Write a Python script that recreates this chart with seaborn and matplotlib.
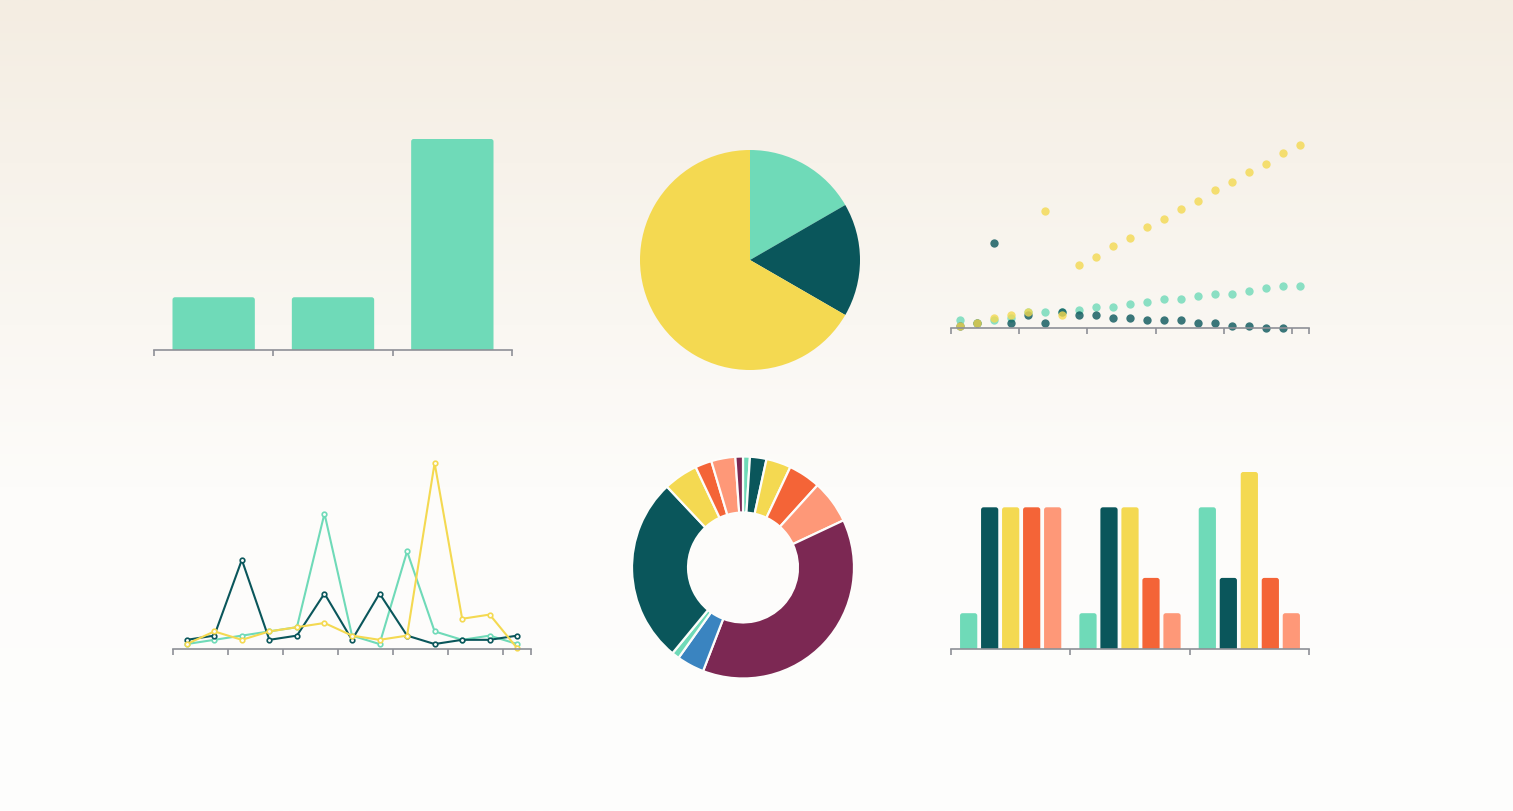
import numpy as np
import pandas as pd
import matplotlib
matplotlib.use('Agg')
import matplotlib.pyplot as plt
from matplotlib.patches import FancyBboxPatch
import seaborn as sns

sns.set_theme(style='white')

# colours
TEAL = '#6fdab8'
DARK = '#0a565b'
YELLOW = '#f4d951'
ORANGE = '#f46437'
SALMON = '#fe9878'
MAROON = '#7c2853'
BLUE = '#3a84c0'

# data - simple bar (top left) and pie (top middle)
bar_cats = ['A', 'B', 'C']
bar_vals = [1, 1, 4]
pie_vals = [1, 1, 4]
pie_colors = [TEAL, DARK, YELLOW]

# data - scatter (top right), 21 steps
sc_x = list(range(21))
sc_teal = [3, 2, 3, 4, 6, 6, 6, 7, 8, 8, 9, 10, 11, 11, 12, 13, 13, 14, 15, 16, 16]
sc_dark = [1, 2, 32, 2, 5, 2, 6, 5, 5, 4, 4, 3, 3, 3, 2, 2, 1, 1, 0, 0, np.nan]
sc_yellow = [1, 2, 4, 5, 6, 44, 5, 24, 27, 31, 34, 38, 41, 45, 48, 52, 55, 59, 62, 66, 69]

# data - line chart (bottom left), 13 steps
ln_x = list(range(13))
ln_teal = [1, 2, 3, 4, 5, 32, 3, 1, 23, 4, 2, 3, 1]
ln_dark = [2, 3, 21, 2, 3, 13, 2, 13, 3, 1, 2, 2, 3]
ln_yellow = [1, 4, 2, 4, 5, 6, 3, 2, 3, 44, 7, 8, 0]

# data - donut (bottom middle), clockwise from top
donut_vals = [1.0, 2.4, 3.6, 4.7, 6.3, 37.8, 4.0, 1.1, 27.0, 5.0, 2.4, 3.5, 1.1]
donut_colors = [TEAL, DARK, YELLOW, ORANGE, SALMON, MAROON, BLUE,
                TEAL, DARK, YELLOW, ORANGE, SALMON, MAROON]

# data - grouped bars (bottom right)
grp_groups = ['G1', 'G2', 'G3']
grp_series = ['s1', 's2', 's3', 's4', 's5']
grp_vals = [[1, 4, 4, 4, 4],
            [1, 4, 4, 2, 1],
            [4, 2, 5, 2, 1]]
grp_colors = [TEAL, DARK, YELLOW, ORANGE, SALMON]

W, H = 1513, 811
fig = plt.figure(figsize=(W / 100, H / 100), dpi=100)


def rect(l, t, r, b):
    return [l / W, 1 - b / H, (r - l) / W, (b - t) / H]


# background gradient
bg = fig.add_axes([0, 0, 1, 1], zorder=-10)
yy = np.linspace(0, 1, 400)
top = np.array([244, 237, 226]) / 255
mid = np.array([253, 252, 250]) / 255
bot = np.array([254, 254, 253]) / 255
t = np.clip(yy / 0.6, 0, 1)[:, None]
col = top * (1 - t) + mid * t
t2 = np.clip((yy - 0.6) / 0.4, 0, 1)[:, None]
col = col * (1 - t2) + bot * t2
bg.imshow(col[:, None, :], aspect='auto', extent=[0, 1, 1, 0])
bg.axis('off')

SPINE = '#8e9097'


def style_axis(ax):
    sns.despine(ax=ax, left=True)
    ax.patch.set_alpha(0)
    ax.spines['bottom'].set_color(SPINE)
    ax.spines['bottom'].set_linewidth(1.2)
    ax.tick_params(axis='x', length=4, width=1.2, color=SPINE, labelbottom=False, bottom=True)
    ax.set_yticks([])
    ax.set_xlabel('')
    ax.set_ylabel('')


def round_bars(ax, radius_px=2.5):
    # swap the bars for ones with rounded top corners
    pos = ax.get_position()
    x0, x1 = ax.get_xlim()
    y0, y1 = ax.get_ylim()
    xpp = (x1 - x0) / (pos.width * W)
    ypp = (y1 - y0) / (pos.height * H)
    r = radius_px * xpp
    asp = ypp / xpp
    for p in list(ax.patches):
        x, w, h = p.get_x(), p.get_width(), p.get_height()
        if h <= 0:
            continue
        ry = r * asp
        fb = FancyBboxPatch((x, -ry), w, h + ry,
                            boxstyle=f'round,pad=0,rounding_size={r}',
                            mutation_aspect=asp, facecolor=p.get_facecolor(),
                            linewidth=0)
        p.remove()
        ax.add_patch(fb)


# top left: bars
ax1 = fig.add_axes(rect(154, 139, 512, 350))
sns.barplot(x=bar_cats, y=bar_vals, color=TEAL, width=0.69, saturation=1,
            linewidth=0, ax=ax1)
ax1.set_xlim(-0.5, 2.5)
ax1.set_ylim(0, 4)
ax1.set_xticks([-0.5, 0.5, 1.5, 2.5])
style_axis(ax1)
round_bars(ax1)

# top middle: pie
ax2 = fig.add_axes(rect(640, 150, 860, 370))
ax2.pie(pie_vals, colors=pie_colors, startangle=90, counterclock=False,
        wedgeprops=dict(linewidth=0))
ax2.set_xlim(-1, 1)
ax2.set_ylim(-1, 1)
ax2.set_aspect('equal')
ax2.axis('off')

# top right: scatter
ax3 = fig.add_axes(rect(951, 145, 1309, 328.3))
for vals, c in [(sc_teal, TEAL), (sc_dark, DARK), (sc_yellow, YELLOW)]:
    sns.scatterplot(x=sc_x, y=vals, color=c, s=36, alpha=0.8, linewidth=0,
                    clip_on=False, ax=ax3)
ax3.set_xlim(-0.5, 20.5)
ax3.set_ylim(0, 69)
ax3.set_xticks([-0.5, 3.5, 7.5, 11.5, 15.5, 19.5, 20.5])
style_axis(ax3)

# bottom left: lines
ax4 = fig.add_axes(rect(173, 463, 531, 649.3))
for vals, c in [(ln_teal, TEAL), (ln_dark, DARK), (ln_yellow, YELLOW)]:
    sns.lineplot(x=ln_x, y=vals, color=c, linewidth=1.5, marker='o', markersize=3.3,
                 markerfacecolor='#fdfdfb', markeredgecolor=c, markeredgewidth=1.2,
                 clip_on=False, ax=ax4)
ax4.set_xlim(-0.5, 12.5)
ax4.set_ylim(-0.25, 44)
ax4.set_xticks([-0.5, 1.5, 3.5, 5.5, 7.5, 9.5, 11.5, 12.5])
style_axis(ax4)

# bottom middle: donut
ax5 = fig.add_axes(rect(632, 456.5, 854, 678.5))
ax5.pie(donut_vals, colors=donut_colors, startangle=90, counterclock=False,
        wedgeprops=dict(width=0.505, edgecolor='#fdfdfb', linewidth=1.6,
                        joinstyle='round'))
ax5.set_xlim(-1, 1)
ax5.set_ylim(-1, 1)
ax5.set_aspect('equal')
ax5.axis('off')

# bottom right: grouped bars
rows = []
for g, vals in zip(grp_groups, grp_vals):
    for s, v in zip(grp_series, vals):
        rows.append({'group': g, 'series': s, 'value': v})
grp_df = pd.DataFrame(rows)
ax6 = fig.add_axes(rect(951, 472, 1309, 648.5))
sns.barplot(data=grp_df, x='group', y='value', hue='series', palette=grp_colors,
            width=0.88, gap=0.18, saturation=1, linewidth=0, legend=False, ax=ax6)
ax6.set_xlim(-0.5, 2.5)
ax6.set_ylim(0, 5)
ax6.set_xticks([-0.5, 0.5, 1.5, 2.5])
style_axis(ax6)
round_bars(ax6)

fig.savefig('out.png', dpi=100)
